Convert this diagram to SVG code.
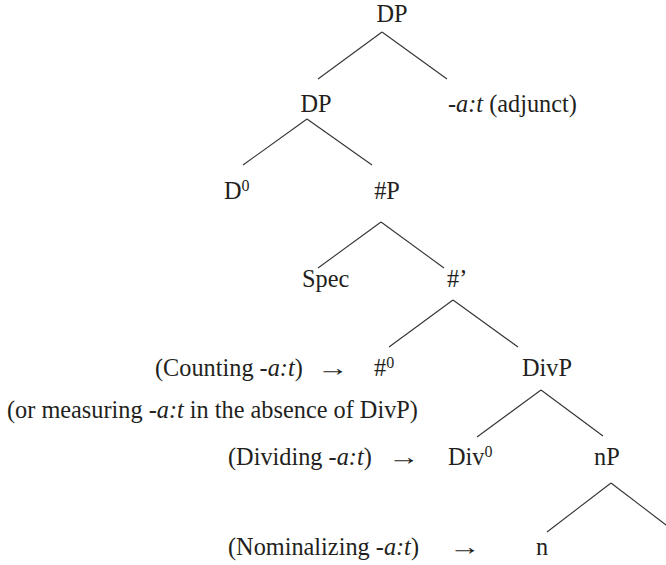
<svg xmlns="http://www.w3.org/2000/svg" width="666" height="565" viewBox="0 0 666 565" font-family="'Liberation Serif', 'DejaVu Serif', serif">
<style>
text{font-size:24.3px;fill:#231f20}
.c{text-anchor:middle}
.sup{font-size:16px}
.it{font-style:italic}
.e line{stroke:#333;stroke-width:1.1}
</style>
<rect width="666" height="565" fill="#fff"/>
<g id="edges" class="e">
<line x1="382" y1="32" x2="318" y2="79"/><line x1="382" y1="32" x2="447" y2="79"/>
<line x1="307" y1="119" x2="243" y2="165"/><line x1="307" y1="119" x2="372" y2="165"/>
<line x1="381" y1="222" x2="318" y2="268"/><line x1="381" y1="222" x2="444" y2="268"/>
<line x1="453" y1="300" x2="389" y2="347"/><line x1="453" y1="300" x2="518" y2="347"/>
<line x1="541" y1="390" x2="477" y2="437"/><line x1="541" y1="390" x2="603" y2="436"/>
<line x1="611" y1="483" x2="547" y2="532"/><line x1="611" y1="483" x2="670" y2="528"/>
</g>
<g id="n-dp-top"><text class="c" x="392" y="22">DP</text></g>
<g id="n-dp"><text class="c" x="316" y="112">DP</text></g>
<g id="n-adjunct"><text x="448" y="112">-<tspan class="it">a:t</tspan> (adjunct)</text></g>
<g id="n-d0"><text x="224" y="199">D<tspan class="sup" dy="-8">0</tspan></text></g>
<g id="n-hashp"><text class="c" x="387" y="199">#P</text></g>
<g id="n-spec"><text x="302" y="287">Spec</text></g>
<g id="n-hashbar"><text x="447" y="287">#’</text></g>
<g id="n-hash0"><text x="374" y="376">#<tspan class="sup" dy="-8">0</tspan></text></g>
<g id="n-counting"><text x="155" y="376">(Counting -<tspan class="it">a:t</tspan>)</text><text transform="translate(317,376) scale(1.3,1)">→</text></g>
<g id="n-divp"><text x="522" y="376">DivP</text></g>
<g id="n-measuring"><text x="7" y="418">(or measuring -<tspan class="it">a:t</tspan> in the absence of DivP)</text></g>
<g id="n-dividing"><text x="228" y="465">(Dividing -<tspan class="it">a:t</tspan>)</text><text transform="translate(388,465) scale(1.3,1)">→</text></g>
<g id="n-div0"><text x="448" y="465">Div<tspan class="sup" dy="-8">0</tspan></text></g>
<g id="n-np"><text x="594" y="465">nP</text></g>
<g id="n-nominalizing"><text x="228" y="555">(Nominalizing -<tspan class="it">a:t</tspan>)</text><text transform="translate(449,555) scale(1.3,1)">→</text></g>
<g id="n-n"><text x="536" y="555">n</text></g>
</svg>
